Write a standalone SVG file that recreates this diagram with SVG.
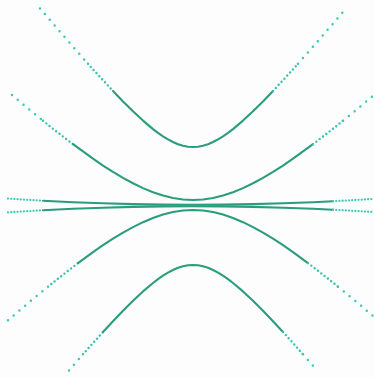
<svg xmlns="http://www.w3.org/2000/svg" width="374" height="378" viewBox="0 0 374 378">
<style>
.bg{fill:#fcfdfc}
.dot{fill:none;stroke:#3cc8bb;stroke-width:2.5;stroke-linecap:round;stroke-linejoin:round;stroke-dasharray:0 7.5}
.mid{fill:none;stroke:#38bfae;stroke-width:2.4;stroke-linecap:round;stroke-linejoin:round;stroke-dasharray:0 4.2}
.fine{fill:none;stroke:#3cc8bb;stroke-width:2.3;stroke-linecap:round;stroke-linejoin:round;stroke-dasharray:0 3.2}
.sol{fill:none;stroke:#2b9c7e;stroke-width:2.1;stroke-linecap:round;stroke-linejoin:round}
</style>
<rect class="bg" x="0" y="0" width="374" height="378"/>
<g id="curve-1">
<path class="dot" d="M40,8.4 L53,23.6 L73,46.7 L88,63.7"/>
<path class="mid" d="M88,63.7 L93,69.3 L113,91.0"/>
<path class="sol" d="M113,91.0 L123,101.4 L133,111.3 L143,120.6 L153,129.1 L158,132.9 L163,136.3 L168,139.4 L173,142.0 L178,144.2 L183,145.7 L188,146.7 L193,147.0 L198,146.7 L203,145.7 L208,144.2 L213,142.0 L218,139.4 L223,136.3 L228,132.9 L233,129.1 L243,120.6 L253,111.3 L263,101.4 L273,91.0"/>
<path class="mid" d="M273,91.0 L293,69.3 L298,63.7"/>
<path class="dot" d="M298,63.7 L313,46.7 L333,23.6 L346,8.4"/>
</g>
<g id="curve-2">
<path class="dot" d="M12,95.0 L33,112.57 L43,120.73"/>
<path class="mid" d="M43,120.73 L53,128.75 L73,144.22"/>
<path class="sol" d="M73,144.22 L93,158.72 L103,165.51 L113,171.91 L123,177.86 L133,183.28 L143,188.10 L153,192.22 L163,195.54 L173,197.99 L183,199.49 L193,200 L203,199.49 L213,197.99 L223,195.54 L233,192.22 L243,188.10 L253,183.28 L263,177.86 L273,171.91 L283,165.51 L293,158.72 L313,144.22"/>
<path class="mid" d="M313,144.22 L333,128.75 L343,120.73"/>
<path class="dot" d="M343,120.73 L353,112.57 L374,95"/>
</g>
<g id="flat-upper">
<path class="fine" d="M8,198.6 L43,200.75"/>
<path class="sol" d="M43,200.75 L73,202.2 L103,203.3 L133,204.15 L163,204.64 L193,204.8 L223,204.64 L253,204.15 L283,203.3 L313,202.2 L333,201.3"/>
<path class="fine" d="M333,201.3 L343,200.75 L374,198.9"/>
</g>
<g id="flat-lower">
<path class="fine" d="M8,212.4 L43,210.25"/>
<path class="sol" d="M43,210.25 L73,208.8 L103,207.7 L133,206.85 L163,206.36 L193,206.2 L223,206.36 L253,206.85 L283,207.7 L313,208.8 L333,209.75"/>
<path class="fine" d="M333,209.75 L343,210.25 L374,212.1"/>
</g>
<g id="curve-4">
<path class="dot" d="M8,320.3 L33,299.03 L48,286.65"/>
<path class="mid" d="M48,286.65 L53,282.60 L73,266.88 L78,263.08"/>
<path class="sol" d="M78,263.08 L93,252.12 L103,245.21 L113,238.69 L123,232.62 L133,227.09 L143,222.17 L153,217.96 L163,214.56 L173,212.06 L183,210.52 L193,210 L203,210.52 L213,212.06 L223,214.56 L233,217.96 L243,222.17 L253,227.09 L263,232.62 L273,238.69 L283,245.21 L293,252.12 L308,263.08"/>
<path class="mid" d="M308,263.08 L313,266.88 L333,282.60 L338,286.65"/>
<path class="dot" d="M338,286.65 L353,299.03 L374,316.85"/>
</g>
<g id="curve-5">
<path class="dot" d="M69,370.4 L83,354.3"/>
<path class="mid" d="M83,354.3 L93,343.0 L103,332.0"/>
<path class="sol" d="M103,332.0 L113,321.2 L123,310.7 L133,300.8 L143,291.4 L153,283.0 L158,279.1 L163,275.7 L168,272.6 L173,270.0 L178,267.8 L183,266.3 L188,265.3 L193,265.0 L198,265.3 L203,266.3 L208,267.8 L213,270.0 L218,272.6 L223,275.7 L228,279.1 L233,283.0 L243,291.4 L253,300.8 L263,310.7 L273,321.2 L283,332.0"/>
<path class="mid" d="M283,332.0 L293,343.0 L303,354.3"/>
<path class="dot" d="M303,354.3 L317,370.4"/>
</g>
</svg>
